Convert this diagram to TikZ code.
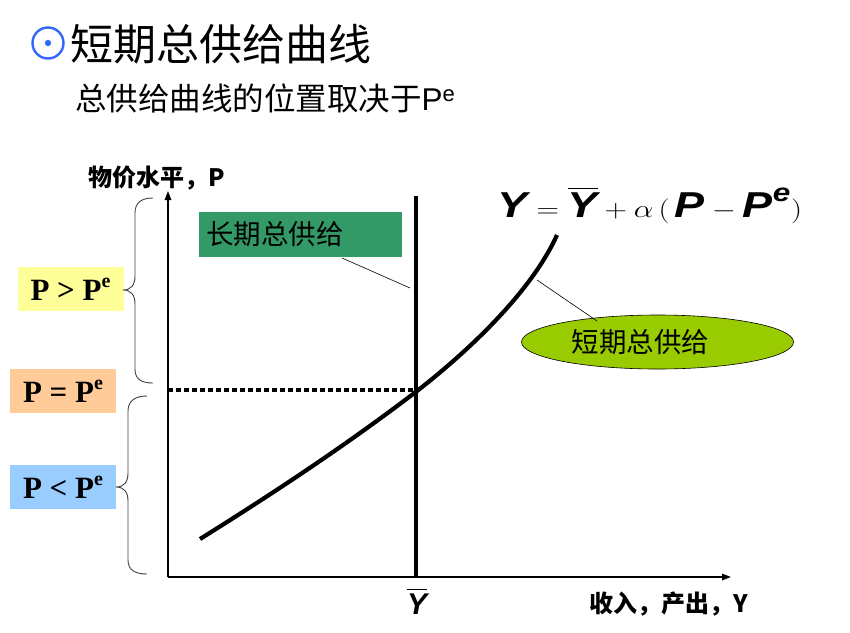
\documentclass[tikz,border=0pt]{standalone}
\usepackage{amsmath}
\usepackage{graphicx}
\usepackage{fontspec}
\setmainfont{Liberation Serif}
\newfontfamily\cjk{Noto Sans CJK SC}
\newfontfamily\formfont{Liberation Sans}
\usepackage{tikz}
\usetikzlibrary{positioning, arrows.meta, shapes.geometric}
\definecolor{titleBlue}{RGB}{51, 102, 255}
\definecolor{lrasGreen}{RGB}{51, 153, 102}
\definecolor{srasGreen}{RGB}{153, 204, 0}
\definecolor{gtYellow}{RGB}{255, 255, 153}
\definecolor{eqOrange}{RGB}{255, 204, 153}
\definecolor{ltBlue}{RGB}{153, 204, 255}
\definecolor{braceGray}{RGB}{64, 64, 64}
\newcommand{\fv}[1]{\text{\formfont\bfseries\itshape #1}}
\newcommand{\supe}{\raisebox{0.42em}{\fontsize{20}{22}\selectfont e}}
\tikzset{
    axis_line/.style={
        line width=1.4pt,
        -{Triangle[length=9pt,width=6.5pt]}
    },
    curve_line/.style={
        line width=4.2pt
    },
    ptr_line/.style={
        line width=0.6pt
    },
    brace_line/.style={
        line width=0.9pt,
        draw=braceGray
    },
    cmp_box/.style={
        minimum width=106pt,
        minimum height=44pt,
        inner sep=0pt,
        font=\fontsize{31}{34}\selectfont\bfseries
    },
    axis_lbl/.style={
        inner sep=0pt,
        font=\cjk\bfseries\fontsize{24}{28}\selectfont
    },
    cn_lbl/.style={
        inner sep=0pt,
        font=\cjk\fontsize{27.5}{31}\selectfont
    }
}
\begin{document}
\begin{tikzpicture}[x=1pt, y=-1pt]
    \useasboundingbox (0,0) rectangle (850,632);

    \draw[titleBlue, line width=2.4pt] (48,43) circle (15.5);
    \fill[titleBlue] (48,43) circle (3.2);
    \node[anchor=west, inner sep=0pt, font=\cjk\fontsize{43}{48}\selectfont]
        (title) at (70,44) {短期总供给曲线};
    \node[anchor=west, inner sep=0pt, font=\cjk\fontsize{31.5}{35}\selectfont]
        (sub) at (75,98) {总供给曲线的位置取决于{\formfont P\textsuperscript{e}}};

    \coordinate (O) at (168,577);
    \coordinate (p_top) at (168,191);
    \coordinate (y_end) at (731,577);
    \draw[axis_line] (O) -- (p_top);
    \draw[axis_line] (O) -- (y_end);
    \node[axis_lbl, anchor=base west] (p_lbl) at (88,186) {物价水平，P};
    \node[axis_lbl, anchor=base west] (y_lbl) at (589,612) {收入，产出，Y};

    \coordinate (lras_top) at (416,196);
    \coordinate (lras_bot) at (416,577);
    \draw[line width=4pt] (lras_top) -- (lras_bot);
    \node[font=\fontsize{30}{34}\selectfont, inner sep=0pt, anchor=base]
        (ybar) at (417,614) {$\overline{\fv{Y}}$};

    \coordinate (pe_left) at (168,390);
    \coordinate (e_pt) at (416,390);
    \draw[line width=4pt, dash pattern=on 4.5pt off 3.5pt] (pe_left) -- (e_pt);

    \draw[curve_line] (200,539) .. controls (272,494) and (345,446) .. (417,391)
        .. controls (462,356) and (530,295) .. (557,235);

    \node[fill=lrasGreen, cn_lbl, minimum width=203pt, minimum height=45pt,
        text width=189pt, align=left] (lras_box) at (300.5,234.5) {长期总供给};
    \coordinate (lras_ptr) at (342,258);
    \coordinate (lras_tip) at (410,288);
    \draw[ptr_line] (lras_ptr) -- (lras_tip);

    \node[ellipse, draw, line width=0.6pt, fill=srasGreen, cn_lbl,
        minimum width=272pt, minimum height=54pt] (sras_ell) at (657.5,342)
        {短期总供给\hspace*{34pt}};
    \coordinate (sras_tip) at (537,280);
    \coordinate (sras_ptr) at (597,321);
    \draw[ptr_line] (sras_tip) -- (sras_ptr);

    \node[font=\fontsize{36}{40}\selectfont, inner sep=0pt, anchor=base] (formula) at (650,217)
        {\scalebox{1.25}[1]{$\fv{Y} = \overline{\fv{Y}} + \alpha\,(\,\fv{P} - \fv{P}^{\fv{e}})$}};

    \node[cmp_box, fill=gtYellow] (gt_box) at (70.5,289) {P > P\supe};
    \node[cmp_box, fill=eqOrange] (eq_box) at (63,391) {P = P\supe};
    \node[cmp_box, fill=ltBlue] (lt_box) at (63,487) {P < P\supe};

    \draw[brace_line] (153,198) .. controls (141,198) and (135,203) .. (135,213)
        -- (135,276) .. controls (135,285) and (131,290) .. (123,290)
        .. controls (131,290) and (135,295) .. (135,304)
        -- (135,369) .. controls (135,379) and (141,383) .. (153,383);
    \draw[brace_line] (147,396) .. controls (135,396) and (128,401) .. (128,411)
        -- (128,473) .. controls (128,482) and (124,487) .. (116,487)
        .. controls (124,487) and (128,492) .. (128,501)
        -- (128,560) .. controls (128,570) and (135,574) .. (147,574);
\end{tikzpicture}
\end{document}
